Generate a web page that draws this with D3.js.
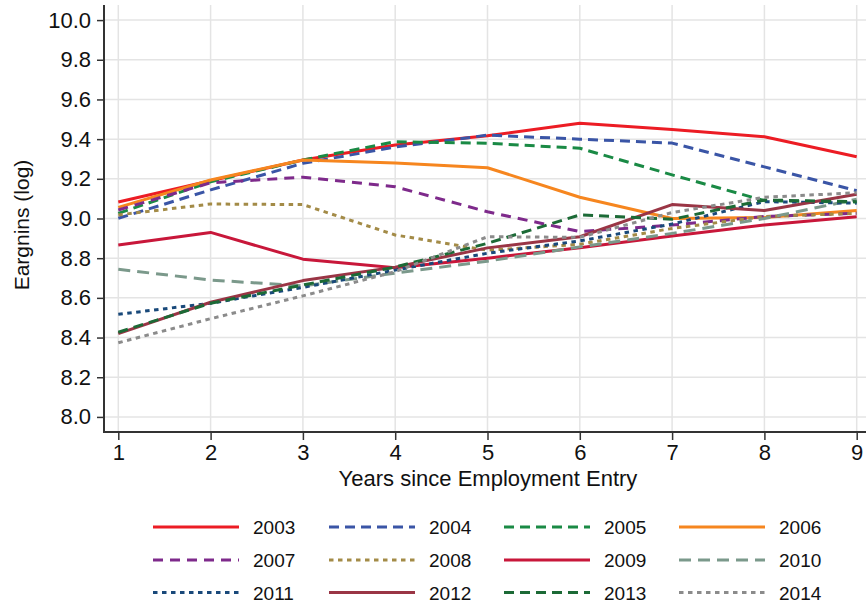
<!DOCTYPE html>
<html>
<head>
<meta charset="utf-8">
<script src="https://cdn.jsdelivr.net/npm/d3@7"></script>
<style>
  html, body { margin: 0; padding: 0; background: #fff; }
  svg { display: block; font-family: "Liberation Sans", Arial, Helvetica, sans-serif; }
</style>
</head>
<body>
<svg id="chart" width="866" height="603"></svg>
<script>
// ---- data ----
const years = [1, 2, 3, 4, 5, 6, 7, 8, 9];
const cohorts = ["2003", "2004", "2005", "2006", "2007", "2008", "2009", "2010", "2011", "2012", "2013", "2014"];
const s2003 = [9.083, 9.190, 9.295, 9.370, 9.417, 9.480, 9.449, 9.412, 9.311];
const s2004 = [9.001, 9.144, 9.278, 9.360, 9.420, 9.400, 9.380, 9.260, 9.140];
const s2005 = [9.026, 9.185, 9.295, 9.387, 9.379, 9.354, 9.220, 9.090, 9.083];
const s2006 = [9.056, 9.194, 9.295, 9.280, 9.256, 9.107, 9.000, 9.005, 9.040];
const s2007 = [9.043, 9.180, 9.208, 9.160, 9.034, 8.934, 8.967, 9.010, 9.026];
const s2008 = [9.018, 9.073, 9.070, 8.917, 8.840, 8.870, 8.950, 9.010, 9.026];
const s2009 = [8.866, 8.930, 8.795, 8.752, 8.800, 8.853, 8.912, 8.967, 9.009];
const s2010 = [8.744, 8.690, 8.660, 8.725, 8.785, 8.857, 8.925, 9.000, 9.097];
const s2011 = [8.517, 8.573, 8.653, 8.740, 8.825, 8.887, 8.972, 9.085, 9.077];
const s2012 = [8.420, 8.578, 8.687, 8.755, 8.852, 8.908, 9.070, 9.040, 9.122];
const s2013 = [8.427, 8.573, 8.665, 8.755, 8.875, 9.018, 8.996, 9.093, 9.085];
const s2014 = [8.374, 8.495, 8.610, 8.732, 8.908, 8.905, 9.030, 9.107, 9.130];
const seriesValues = [s2003, s2004, s2005, s2006, s2007, s2008, s2009, s2010, s2011, s2012, s2013, s2014];
const yTicks = [8.0, 8.2, 8.4, 8.6, 8.8, 9.0, 9.2, 9.4, 9.6, 9.8, 10.0];
const xTicks = [1, 2, 3, 4, 5, 6, 7, 8, 9];
const xTitle = "Years since Employment Entry";
const yTitle = "Eargnins (log)";

// ---- styles ----
const colors = ["#ec1c24", "#3a55a6", "#1a8a45", "#f6861f", "#7e2a8b", "#a38b47",
                "#c8173a", "#7b998b", "#19497a", "#9a3545", "#1c6a36", "#8b8b8b"];
const dashes = [null, "10,6", "10,6", null, "10,7", "4.5,4.5",
                null, "12,7", "4.5,4.5", null, "10,6", "4.5,4.5"];

const svg = d3.select("#chart");
const pLeft = 104, pBottom = 432, pTop = 5, pRight = 866;

const x = d3.scaleLinear().domain([1, 9]).range([118.3, 856.7]);
const y = d3.scaleLinear().domain([7.924, 10.076]).range([pBottom, pTop]);

// gridlines
const grid = svg.append("g");
grid.selectAll("line.h").data(yTicks).enter().append("line")
  .attr("x1", pLeft).attr("x2", pRight)
  .attr("y1", d => y(d)).attr("y2", d => y(d))
  .attr("stroke", "#e4e4e4").attr("stroke-width", 1.5);
grid.selectAll("line.v").data(xTicks).enter().append("line")
  .attr("y1", pTop).attr("y2", pBottom)
  .attr("x1", d => x(d)).attr("x2", d => x(d))
  .attr("stroke", "#e4e4e4").attr("stroke-width", 1.5);

// series lines
const line = d3.line().x((d, i) => x(years[i])).y(d => y(d));
const lines = svg.append("g");
seriesValues.forEach((vals, k) => {
  lines.append("path")
    .datum(vals)
    .attr("d", line)
    .attr("fill", "none")
    .attr("stroke", colors[k])
    .attr("stroke-width", 3)
    .attr("stroke-linejoin", "round")
    .attr("stroke-dasharray", dashes[k]);
});

// axes
const yAxis = d3.axisLeft(y).tickValues(yTicks).tickFormat(d3.format(".1f")).tickSize(7).tickPadding(6);
const gy = svg.append("g").attr("transform", `translate(${pLeft},0)`).call(yAxis);
gy.select(".domain").remove();
gy.append("line").attr("x1", 0).attr("x2", 0).attr("y1", pTop).attr("y2", pBottom + 1)
  .attr("stroke", "#333").attr("stroke-width", 2);
gy.selectAll(".tick line").attr("stroke", "#333").attr("stroke-width", 1.5);
gy.selectAll(".tick text").attr("font-size", 22).attr("fill", "#111").attr("font-family", "Liberation Sans, Arial, sans-serif");

const xAxis = d3.axisBottom(x).tickValues(xTicks).tickFormat(d3.format("d")).tickSize(8).tickPadding(4);
const gx = svg.append("g").attr("transform", `translate(0,${pBottom})`).call(xAxis);
gx.select(".domain").remove();
gx.append("line").attr("x1", pLeft - 1).attr("x2", pRight).attr("y1", 0).attr("y2", 0)
  .attr("stroke", "#333").attr("stroke-width", 2);
gx.selectAll(".tick line").attr("stroke", "#333").attr("stroke-width", 1.5);
gx.selectAll(".tick text").attr("font-size", 22).attr("fill", "#111").attr("font-family", "Liberation Sans, Arial, sans-serif");

// titles
svg.append("text").attr("x", 488).attr("y", 486).attr("text-anchor", "middle")
  .attr("font-size", 22).attr("fill", "#111").text(xTitle);
svg.append("text").attr("transform", "translate(29,225) rotate(-90)").attr("text-anchor", "middle")
  .attr("font-size", 21).attr("fill", "#111").text(yTitle);

// legend
const legX = [153, 329, 504, 679];
const legY = [527, 560, 592.5];
const leg = svg.append("g");
cohorts.forEach((c, k) => {
  const col = k % 4, row = Math.floor(k / 4);
  const lx = legX[col], ly = legY[row];
  leg.append("line").attr("x1", lx).attr("x2", lx + 86).attr("y1", ly).attr("y2", ly)
    .attr("stroke", colors[k]).attr("stroke-width", 3)
    .attr("stroke-dasharray", dashes[k]);
  leg.append("text").attr("x", lx + 100).attr("y", ly + 7)
    .attr("font-size", 19).attr("fill", "#111").text(c);
});
</script>
</body>
</html>
